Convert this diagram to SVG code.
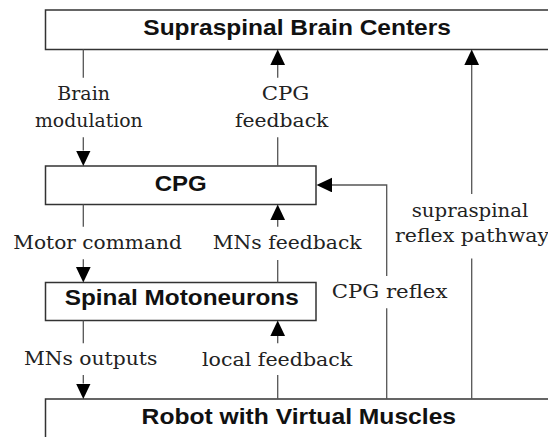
<svg xmlns="http://www.w3.org/2000/svg" width="548" height="437" viewBox="0 0 548 437">
<style>
.box{fill:#fff;stroke:#333;stroke-width:1.5}
.con{fill:none;stroke:#555;stroke-width:1.3}
.t{font-family:"Liberation Sans",Arial,sans-serif;font-weight:bold;font-size:22px;fill:#111}
.l{font-family:"DejaVu Serif","Liberation Serif",serif;font-size:19px;fill:#222}
</style>
<defs>
<marker id="ah" markerUnits="userSpaceOnUse" markerWidth="16" markerHeight="16" refX="0" refY="7.35" orient="auto">
<path d="M0,0 L15.5,7.35 L0,14.7 z" fill="#000"/>
</marker>
</defs>
<rect width="548" height="437" fill="#fff"/>
<g id="supraspinal">
<rect class="box" x="45.5" y="10" width="520" height="39.5"/>
<text class="t" x="143.3" y="35" textLength="307.6" lengthAdjust="spacingAndGlyphs">Supraspinal Brain Centers</text>
</g>
<g id="cpg">
<rect class="box" x="45.5" y="166" width="270.5" height="38.5"/>
<text class="t" x="154.8" y="191" textLength="52" lengthAdjust="spacingAndGlyphs">CPG</text>
</g>
<g id="spinal">
<rect class="box" x="45.5" y="282.5" width="270.5" height="38"/>
<text class="t" x="64.7" y="305" textLength="234" lengthAdjust="spacingAndGlyphs">Spinal Motoneurons</text>
</g>
<g id="robot">
<rect class="box" x="45.5" y="399" width="520" height="60"/>
<text class="t" x="141.6" y="424" textLength="314.5" lengthAdjust="spacingAndGlyphs">Robot with Virtual Muscles</text>
</g>
<g id="connectors">
<!-- Brain modulation -->
<line class="con" x1="83.3" y1="49.5" x2="83.3" y2="77.7"/>
<line class="con" x1="83.3" y1="137.3" x2="83.3" y2="150.5" marker-end="url(#ah)"/>
<!-- CPG feedback -->
<line class="con" x1="277.7" y1="166" x2="277.7" y2="137.3"/>
<line class="con" x1="277.7" y1="77.7" x2="277.7" y2="65" marker-end="url(#ah)"/>
<!-- Motor command -->
<line class="con" x1="83.3" y1="204.5" x2="83.3" y2="226.7"/>
<line class="con" x1="83.3" y1="259.3" x2="83.3" y2="267" marker-end="url(#ah)"/>
<!-- MNs feedback -->
<line class="con" x1="277.7" y1="282.5" x2="277.7" y2="260"/>
<line class="con" x1="277.7" y1="226.7" x2="277.7" y2="220" marker-end="url(#ah)"/>
<!-- MNs outputs -->
<line class="con" x1="83.3" y1="320.5" x2="83.3" y2="343.3"/>
<line class="con" x1="83.3" y1="375" x2="83.3" y2="383.5" marker-end="url(#ah)"/>
<!-- local feedback -->
<line class="con" x1="277.7" y1="399" x2="277.7" y2="375"/>
<line class="con" x1="277.7" y1="343.3" x2="277.7" y2="336" marker-end="url(#ah)"/>
<!-- CPG reflex -->
<line class="con" x1="386.7" y1="399" x2="386.7" y2="308.3"/>
<polyline class="con" points="386.7,276 386.7,185 332,185" marker-end="url(#ah)"/>
<!-- supraspinal reflex pathway -->
<line class="con" x1="471.7" y1="399" x2="471.7" y2="258.4"/>
<line class="con" x1="471.7" y1="194" x2="471.7" y2="65" marker-end="url(#ah)"/>
</g>
<g id="labels">
<text class="l" x="57.3" y="100" textLength="52.7" lengthAdjust="spacingAndGlyphs">Brain</text>
<text class="l" x="35" y="126.7" textLength="107.7" lengthAdjust="spacingAndGlyphs">modulation</text>
<text class="l" x="261.7" y="100" textLength="47.6" lengthAdjust="spacingAndGlyphs">CPG</text>
<text class="l" x="235" y="126.7" textLength="93.3" lengthAdjust="spacingAndGlyphs">feedback</text>
<text class="l" x="13.3" y="249.3" textLength="168.5" lengthAdjust="spacingAndGlyphs">Motor command</text>
<text class="l" x="212.7" y="249.3" textLength="149" lengthAdjust="spacingAndGlyphs">MNs feedback</text>
<text class="l" x="411.7" y="216.7" textLength="116.7" lengthAdjust="spacingAndGlyphs">supraspinal</text>
<text class="l" x="395" y="242" textLength="154" lengthAdjust="spacingAndGlyphs">reflex pathway</text>
<text class="l" x="331.7" y="298.3" textLength="115.7" lengthAdjust="spacingAndGlyphs">CPG reflex</text>
<text class="l" x="24" y="365" textLength="133.3" lengthAdjust="spacingAndGlyphs">MNs outputs</text>
<text class="l" x="202" y="365.5" textLength="150.3" lengthAdjust="spacingAndGlyphs">local feedback</text>
</g>
</svg>
